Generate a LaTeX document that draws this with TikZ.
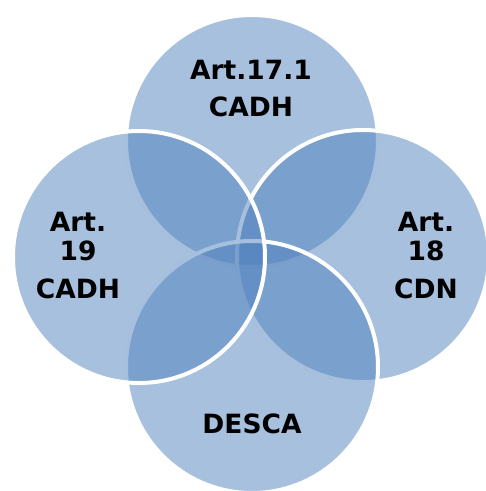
\documentclass[tikz,border=0pt]{standalone}
\usepackage{fontspec}
\setmainfont{DejaVu Sans}
\usepackage{xcolor}
\usepackage{tikz}
\usetikzlibrary{positioning}
\definecolor{accentblue}{RGB}{79,129,189}

\begin{document}
\begin{tikzpicture}[x=1pt,y=-1pt,
					venn/.style={
						circle, draw=white, line width=4pt,
						fill=accentblue, fill opacity=0.5,
						minimum size=252pt, inner sep=0pt
					},
					lbl/.style={
						text=black, align=center,
						font=\bfseries\fontsize{26.5}{29}\selectfont
					}
					]
					\useasboundingbox (0,0) rectangle (486,491);
					% Bốn vòng tròn chồng lên nhau: trên, phải, dưới, trái
					\node[venn] (top)    at (252,141) {};
					\node[venn] (right)  at (363,256) {};
					\node[venn] (bottom) at (252,367) {};
					\node[venn] (left)   at (139,257) {};
					% Nhãn trong từng vòng
					\node[lbl] (toplbl)    at (251,89)  {Art.17.1\\[8pt]CADH};
					\node[lbl] (rightlbl)  at (426,256) {Art.\\18\\[9pt]CDN};
					\node[lbl] (bottomlbl) at (252,424) {DESCA};
					\node[lbl] (leftlbl)   at (78,256)  {Art.\\19\\[9pt]CADH};
				\end{tikzpicture}
\end{document}
